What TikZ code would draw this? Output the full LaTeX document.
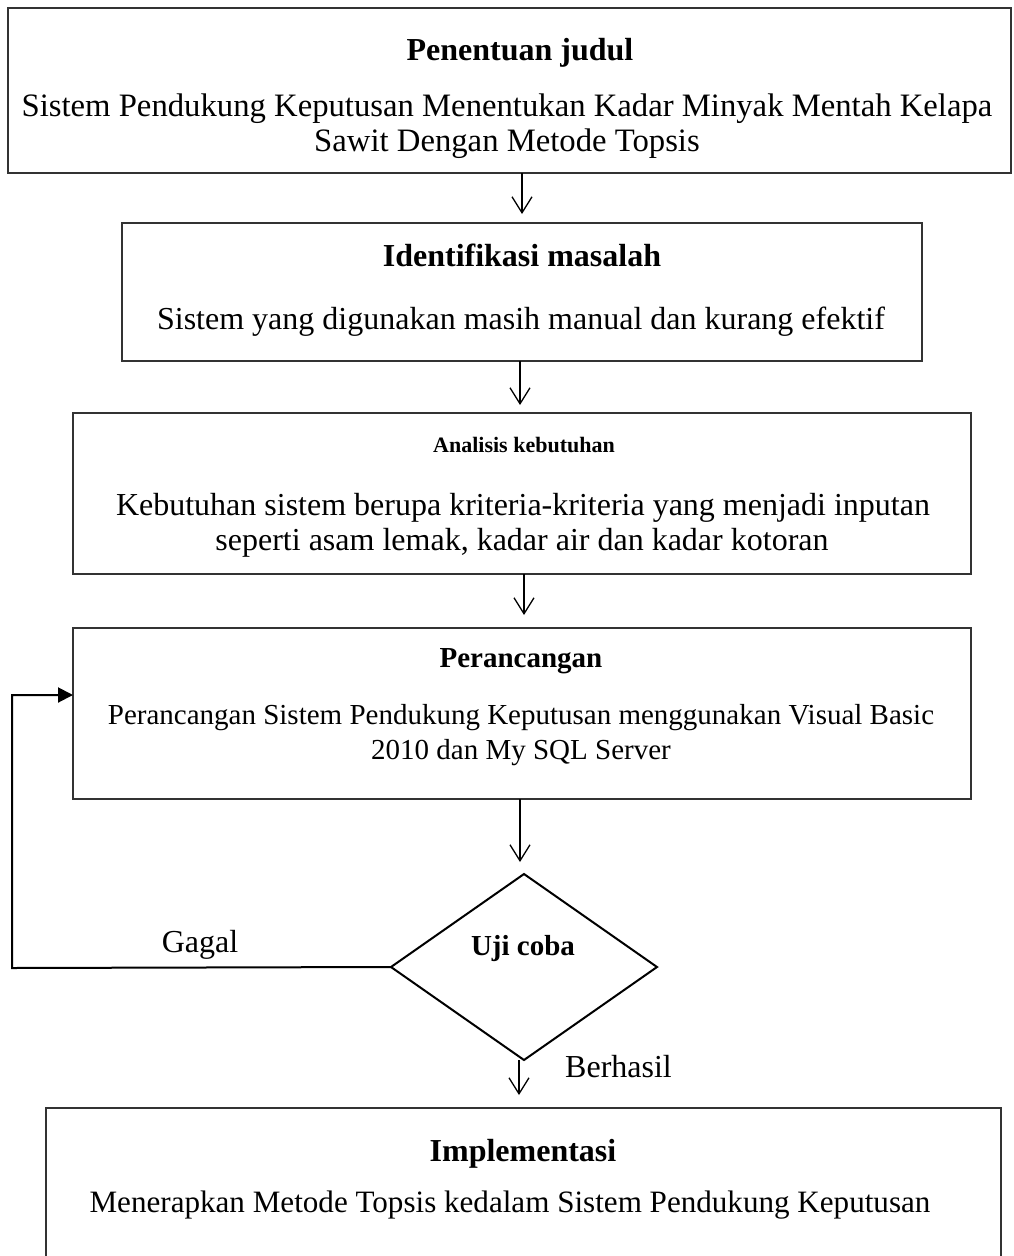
\documentclass[tikz,border=0pt]{standalone}
\usepackage{fontspec}
\setmainfont{Liberation Serif}
\usetikzlibrary{arrows.meta,shapes.geometric}
\definecolor{boxgray}{HTML}{333333}
\begin{document}
\begin{tikzpicture}[x=1pt,y=-1pt,
  box/.style={draw=boxgray, line width=2pt, inner sep=0pt, outer sep=0pt, anchor=north west},
  txt/.style={anchor=base, inner sep=0pt, font=\fontsize{32}{37}\selectfont},
  ttl/.style={anchor=base, inner sep=0pt, font=\fontsize{32}{37}\selectfont\bfseries},
  stxt/.style={anchor=base, inner sep=0pt, font=\fontsize{29}{34}\selectfont},
  sttl/.style={anchor=base, inner sep=0pt, font=\fontsize{29}{34}\selectfont\bfseries},
  varr/.style={draw=black, line width=1.3pt, -{Straight Barb[length=16pt,width=20pt]}},
  farr/.style={draw=black, line width=2pt, -{Triangle[length=15pt,width=15pt]}},
]
\useasboundingbox (0,0) rectangle (1014,1256);

% boxes
\node[box, minimum width=1003pt, minimum height=165pt] (b1) at (8,8) {};
\node[box, minimum width=800pt, minimum height=138pt] (b2) at (122,223) {};
\node[box, minimum width=898pt, minimum height=161pt] (b3) at (73,413) {};
\node[box, minimum width=898pt, minimum height=171pt] (b4) at (73,628) {};
\node[box, minimum width=955pt, minimum height=200pt] (b5) at (46,1108) {};
\node[draw=black, line width=2pt, shape=diamond, inner sep=0pt, outer sep=0pt,
      minimum width=266pt, minimum height=186pt] (d) at (524,967) {};

% texts
\node[ttl] (t1) at (520,60) {Penentuan judul};
\node[anchor=base, inner sep=0pt, font=\fontsize{32.7}{37}\selectfont] (t1a) at (507,116) {Sistem Pendukung Keputusan Menentukan Kadar Minyak Mentah Kelapa};
\node[anchor=base, inner sep=0pt, font=\fontsize{32.7}{37}\selectfont] (t1b) at (507,151) {Sawit Dengan Metode Topsis};

\node[ttl] (t2) at (522,266) {Identifikasi masalah};
\node[txt] (t2a) at (521,329) {Sistem yang digunakan masih manual dan kurang efektif};

\node[anchor=base, inner sep=0pt, font=\fontsize{22}{26}\selectfont\bfseries] (t3) at (524,452) {Analisis kebutuhan};
\node[txt] (t3a) at (523,515) {Kebutuhan sistem berupa kriteria-kriteria yang menjadi inputan};
\node[txt] (t3b) at (522,550) {seperti asam lemak, kadar air dan kadar kotoran};

\node[sttl] (t4) at (521,667) {Perancangan};
\node[stxt] (t4a) at (521,724) {Perancangan Sistem Pendukung Keputusan menggunakan Visual Basic};
\node[stxt] (t4b) at (521,759) {2010 dan My SQL Server};

\node[sttl] (td) at (523,955) {Uji coba};
\node[txt] (gagal) at (200,952) {Gagal};
\node[txt, anchor=base west] (berhasil) at (565,1077) {Berhasil};

\node[ttl] (t5) at (523,1161) {Implementasi};
\node[anchor=base, inner sep=0pt, font=\fontsize{31.1}{36}\selectfont] (t5a) at (510,1212) {Menerapkan Metode Topsis kedalam Sistem Pendukung Keputusan};

% connectors
\draw[varr, shorten >=9pt] (b1.south -| 522,0) -- (b2.north -| 522,0);
\draw[varr, shorten >=8pt] (b2.south -| 520,0) -- (b3.north -| 520,0);
\draw[varr, shorten >=13pt] (b3.south -| 524,0) -- (b4.north -| 524,0);
\draw[varr, shorten >=12pt] (b4.south -| 520,0) -- (d.north -| 520,0);
\draw[varr, shorten >=13pt] (d.south -| 519,0) -- (b5.north -| 519,0);

\coordinate (fbl) at (12,968);
\coordinate (fbt) at (12,695);
\draw[farr] (d.west) -- (fbl) -- (fbt) -- (fbt -| b4.west);
\end{tikzpicture}
\end{document}
